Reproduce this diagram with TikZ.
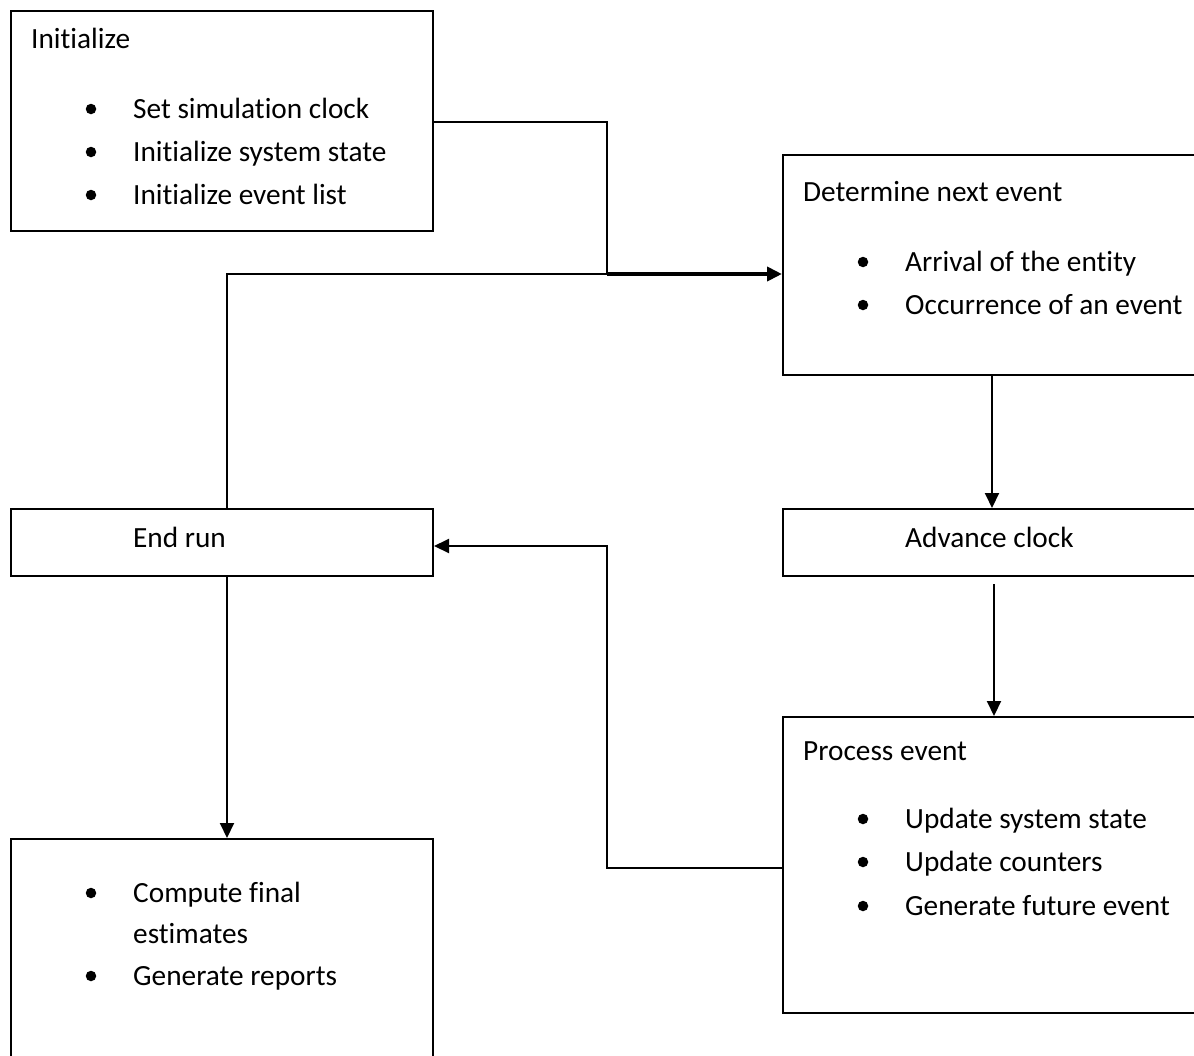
\documentclass[tikz,border=0pt]{standalone}
\usepackage{fontspec}
\setmainfont{Carlito}[RawFeature={-liga}]
\usetikzlibrary{arrows.meta,calc}
\begin{document}
\begin{tikzpicture}[x=1pt,y=-1pt,
 box/.style={draw,line width=2pt,anchor=north west,inner sep=0pt},
 txt/.style={anchor=base west,inner sep=0pt,font=\fontsize{29.3}{35}\selectfont},
 dot/.style={circle,fill,inner sep=0pt,minimum size=10.5pt},
 conn/.style={line width=2pt},
 arr/.style={line width=2pt,-{Triangle[length=15pt,width=14pt]}},
 thickarr/.style={line width=4pt,-{Triangle[length=15pt,width=14pt]}},
]
\useasboundingbox (0,0) rectangle (1194,1055);
\clip (0,0) rectangle (1194,1055);
% boxes
\node[box,minimum width=422pt,minimum height=220pt] (init) at (10,10) {};
\node[box,minimum width=430pt,minimum height=220pt] (det) at (782,154) {};
\node[box,minimum width=430pt,minimum height=67pt] (adv) at (782,508) {};
\node[box,minimum width=430pt,minimum height=296pt] (proc) at (782,716) {};
\node[box,minimum width=422pt,minimum height=67pt] (endrun) at (10,508) {};
\node[box,minimum width=422pt,minimum height=260pt] (fin) at (10,838) {};
% texts: Initialize
\node[txt] (t1) at (31,48) {Initialize};
\node[dot] (b11) at (91,109) {};
\node[txt] (t11) at (133,118) {Set simulation clock};
\node[dot] (b12) at (91,152) {};
\node[txt] (t12) at (133,161) {Initialize system state};
\node[dot] (b13) at (91,195) {};
\node[txt] (t13) at (133,204) {Initialize event list};
% Determine next event
\node[txt] (t2) at (803,201) {Determine next event};
\node[dot] (b21) at (863,262) {};
\node[txt] (t21) at (905,271) {Arrival of the entity};
\node[dot] (b22) at (863,305) {};
\node[txt] (t22) at (905,314) {Occurrence of an event};
% Advance clock
\node[txt] (t3) at (905,547) {Advance clock};
% End run
\node[txt] (t4) at (133,547) {End run};
% Process event
\node[txt] (t5) at (803,760) {Process event};
\node[dot] (b51) at (863,819) {};
\node[txt] (t51) at (905,828) {Update system state};
\node[dot] (b52) at (863,862) {};
\node[txt] (t52) at (905,871) {Update counters};
\node[dot] (b53) at (863,906) {};
\node[txt] (t53) at (905,915) {Generate future event};
% Final
\node[dot] (b61) at (91,893) {};
\node[txt] (t61) at (133,902) {Compute final};
\node[txt] (t62) at (133,943) {estimates};
\node[dot] (b63) at (91,976) {};
\node[txt] (t63) at (133,985) {Generate reports};
% connectors
\coordinate (j1) at (607,122);
\coordinate (j2) at (607,274);
\coordinate (l1) at (227,274);
\coordinate (c1) at (992,0);
\coordinate (c2) at (994,0);
\coordinate (j3) at (607,868);
\coordinate (j4) at (607,546);
\draw[conn] (init.east |- j1) -- (j1) -- (j2);
\draw[conn] (l1 |- endrun.north) -- (l1) -- (j2);
\draw[thickarr] (j2) -- (det.west |- j2);
\draw[arr] (det.south -| c1) -- (adv.north -| c1);
\draw[arr] ($(adv.south -| c2)+(0,7)$) -- (proc.north -| c2);
\draw[arr] (proc.west |- j3) -- (j3) -- (j4) -- (endrun.east |- j4);
\draw[arr] (endrun.south -| l1) -- (fin.north -| l1);
\end{tikzpicture}
\end{document}
